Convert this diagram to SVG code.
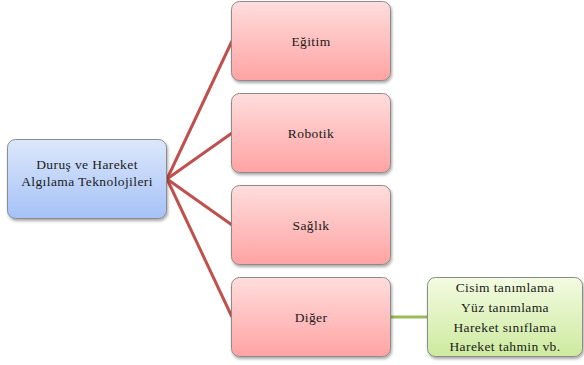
<svg xmlns="http://www.w3.org/2000/svg" width="584" height="365" viewBox="0 0 584 365">
  <style>
    .box { stroke: #8c8c8c; stroke-width: 1; filter: url(#shadow); }
    .lbl { font-family: "Liberation Serif", "Times New Roman", serif; font-size: 13.5px; letter-spacing: 0.4px; fill: #1a1a1a; text-anchor: middle; }
    .red { stroke: #c0504d; stroke-width: 3; fill: none; }
    .green { stroke: #9bbb59; stroke-width: 3; fill: none; }
  </style>
  <defs>
    <linearGradient id="gBlue" x1="0" y1="0" x2="0" y2="1">
      <stop offset="0" stop-color="#dce7fb"/>
      <stop offset="1" stop-color="#a5c2f7"/>
    </linearGradient>
    <linearGradient id="gPink" x1="0" y1="0" x2="0" y2="1">
      <stop offset="0" stop-color="#ffdddd"/>
      <stop offset="1" stop-color="#ffa3a3"/>
    </linearGradient>
    <linearGradient id="gGreen" x1="0" y1="0" x2="0" y2="1">
      <stop offset="0" stop-color="#f3fbe2"/>
      <stop offset="1" stop-color="#cdea9e"/>
    </linearGradient>
    <filter id="shadow" x="-10%" y="-10%" width="125%" height="130%">
      <feGaussianBlur in="SourceAlpha" stdDeviation="1.5"/>
      <feOffset dx="1" dy="2" result="b"/>
      <feComponentTransfer><feFuncA type="linear" slope="0.35"/></feComponentTransfer>
      <feMerge><feMergeNode/><feMergeNode in="SourceGraphic"/></feMerge>
    </filter>
  </defs>

  <g id="connectors">
    <line class="red" x1="167" y1="179" x2="232" y2="41"/>
    <line class="red" x1="167" y1="179" x2="232" y2="133"/>
    <line class="red" x1="167" y1="179" x2="232" y2="225"/>
    <line class="red" x1="167" y1="179" x2="232" y2="317"/>
    <line class="green" x1="390" y1="317" x2="428" y2="317"/>
  </g>

  <g id="root">
    <rect class="box" x="7.5" y="139.5" width="159" height="79" rx="8" fill="url(#gBlue)"/>
    <text class="lbl" x="87" y="169">Duruş ve Hareket</text>
    <text class="lbl" x="87" y="186">Algılama Teknolojileri</text>
  </g>

  <g id="egitim">
    <rect class="box" x="231.5" y="1.5" width="159" height="79" rx="8" fill="url(#gPink)"/>
    <text class="lbl" x="311" y="46">Eğitim</text>
  </g>

  <g id="robotik">
    <rect class="box" x="231.5" y="93.5" width="159" height="79" rx="8" fill="url(#gPink)"/>
    <text class="lbl" x="311" y="138">Robotik</text>
  </g>

  <g id="saglik">
    <rect class="box" x="231.5" y="185.5" width="159" height="79" rx="8" fill="url(#gPink)"/>
    <text class="lbl" x="311" y="230">Sağlık</text>
  </g>

  <g id="diger">
    <rect class="box" x="231.5" y="277.5" width="159" height="79" rx="8" fill="url(#gPink)"/>
    <text class="lbl" x="311" y="322">Diğer</text>
  </g>

  <g id="diger-detay">
    <rect class="box" x="427.5" y="277.5" width="155" height="79" rx="8" fill="url(#gGreen)"/>
    <text class="lbl" x="505" y="292">Cisim tanımlama</text>
    <text class="lbl" x="505" y="312">Yüz tanımlama</text>
    <text class="lbl" x="505" y="332">Hareket sınıflama</text>
    <text class="lbl" x="505" y="351">Hareket tahmin vb.</text>
  </g>
</svg>
